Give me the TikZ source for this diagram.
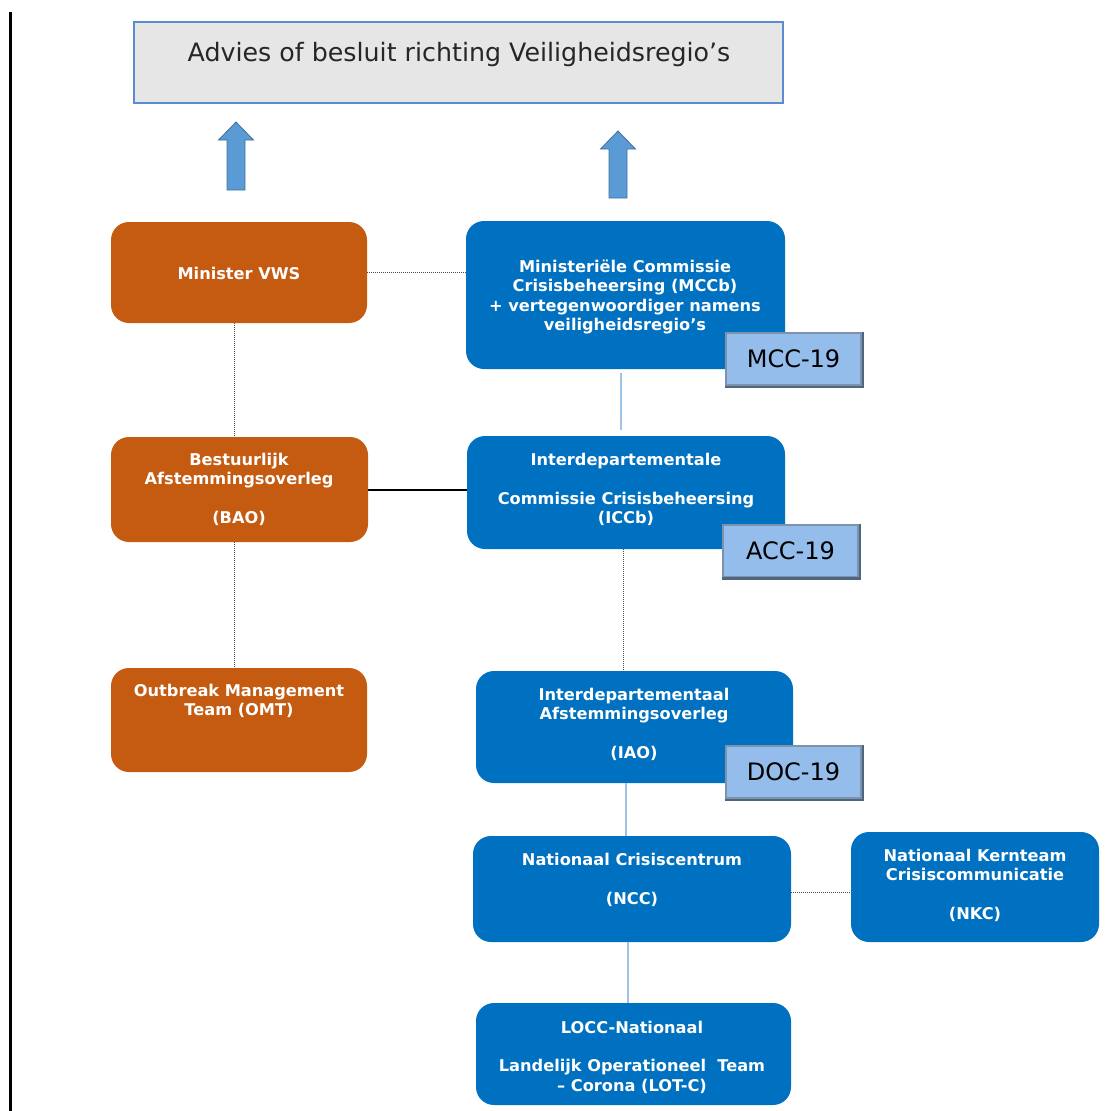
\documentclass[tikz,border=0pt]{standalone}
\usepackage{fontspec}
\setmainfont{DejaVu Sans}
\definecolor{orangebox}{HTML}{C55A11}
\definecolor{bluebox}{HTML}{0070C0}
\definecolor{topfill}{HTML}{E7E6E6}
\definecolor{topline}{HTML}{5B8BD0}
\definecolor{arrowfill}{HTML}{5B9BD5}
\definecolor{arrowline}{HTML}{41719C}
\definecolor{tagfill}{HTML}{95BDEB}
\definecolor{tagline}{HTML}{7D93AB}
\definecolor{tagdark}{HTML}{4F6580}
\definecolor{lightlink}{HTML}{9DC3E6}
\begin{document}
\begin{tikzpicture}[x=1pt,y=-1pt,
  obox/.style={rectangle, rounded corners=18pt, fill=orangebox, draw=none, inner sep=0pt},
  bbox/.style={rectangle, rounded corners=18pt, fill=bluebox, draw=none, inner sep=0pt},
  boxtext/.style={text=white, font=\bfseries\fontsize{16.2}{19.3}\selectfont, align=center, inner sep=0pt},
  tagbox/.style={rectangle, fill=tagfill, draw=tagline, line width=2pt, inner sep=0pt, minimum width=135pt, minimum height=52pt, font=\fontsize{24}{28}\selectfont},
  tagshade/.style={draw=tagdark, line width=2.5pt},
  dotlink/.style={draw=black!70, line width=1pt, densely dotted},
  solidlink/.style={draw=black, line width=2pt},
  bluelink/.style={draw=lightlink, line width=2pt},
  uparrow/.style={fill=arrowfill, draw=arrowline, line width=0.8pt}
]
\useasboundingbox (0,0) rectangle (1120,1111);
\fill[white] (0,0) rectangle (1120,1111);

% left border line
\draw[line width=3pt, black] (10,12) -- (10,1111);

% top box
\node[rectangle, fill=topfill, draw=topline, line width=1.5pt, minimum width=649pt, minimum height=81pt, inner sep=0pt] (top) at (458.5,62.5) {};
\node[font=\fontsize{25.3}{29}\selectfont, text=black!85, inner sep=0pt] (toptext) at (459,55) {Advies of besluit richting Veiligheidsregio’s};

% up arrows
\draw[uparrow] (236,122) -- (253.5,140) -- (245,140) -- (245,190) -- (227,190) -- (227,140) -- (218.5,140) -- cycle;
\draw[uparrow] (618,131) -- (635.5,149) -- (627,149) -- (627,198) -- (609,198) -- (609,149) -- (600.5,149) -- cycle;

% boxes
\node[obox, minimum width=256pt, minimum height=101pt] (vws) at (239,272.5) {};
\node[obox, minimum width=257pt, minimum height=105pt] (bao) at (239.5,489.5) {};
\node[obox, minimum width=256pt, minimum height=104pt] (omt) at (239,720) {};
\node[bbox, minimum width=319pt, minimum height=148pt] (mcc) at (625.5,295) {};
\node[bbox, minimum width=318pt, minimum height=113pt] (icc) at (626,492.5) {};
\node[bbox, minimum width=317pt, minimum height=112pt] (iao) at (634.5,727) {};
\node[bbox, minimum width=318pt, minimum height=106pt] (ncc) at (632,889) {};
\node[bbox, minimum width=248pt, minimum height=110pt] (nkc) at (975,887) {};
\node[bbox, minimum width=315pt, minimum height=102pt] (locc) at (633.5,1054) {};

% connectors
\draw[dotlink] (vws.east) -- (vws.east -| mcc.west);
\draw[dotlink] ([xshift=-5pt]vws.south) -- ([xshift=-5pt]vws.south |- bao.north);
\draw[solidlink] (bao.east) -- (bao.east -| icc.west);
\draw[dotlink] ([xshift=-5pt]bao.south) -- ([xshift=-5pt]bao.south |- omt.north);
\draw[bluelink, shorten <=4pt, shorten >=6pt] ([xshift=-4.5pt]mcc.south) -- ([xshift=-4.5pt]mcc.south |- icc.north);
\draw[dotlink] ([xshift=-3pt]icc.south) -- ([xshift=-3pt]icc.south |- iao.north);
\draw[bluelink] ([xshift=-8.5pt]iao.south) -- ([xshift=-8.5pt]iao.south |- ncc.north);
\draw[dotlink] ([yshift=-3pt]ncc.east) -- ([yshift=-3pt]ncc.east -| nkc.west);
\draw[bluelink] ([xshift=-4pt]ncc.south) -- ([xshift=-4pt]ncc.south |- locc.north);

% box texts
\node[boxtext] (tvws) at (239,273) {Minister VWS};
\node[boxtext] (tbao) at (239,489.5) {Bestuurlijk\\Afstemmingsoverleg\\[19.3pt](BAO)};
\node[boxtext] (tomt) at (239,701) {Outbreak Management\\Team (OMT)};
\node[boxtext] (tmcc) at (625,297) {Ministeriële Commissie\\Crisisbeheersing (MCCb)\\+ vertegenwoordiger namens\\veiligheidsregio’s};
\node[boxtext] (ticc) at (626,489.5) {Interdepartementale\\[19.3pt]Commissie Crisisbeheersing\\(ICCb)};
\node[boxtext] (tiao) at (634,724.5) {Interdepartementaal\\Afstemmingsoverleg\\[19.3pt](IAO)};
\node[boxtext] (tncc) at (632,880) {Nationaal Crisiscentrum\\[19.3pt](NCC)};
\node[boxtext] (tnkc) at (975,885.5) {Nationaal Kernteam\\Crisiscommunicatie\\[19.3pt](NKC)};
\node[boxtext] (tlocc) at (632,1057) {LOCC-Nationaal\\[19.3pt]Landelijk Operationeel\ \ Team\\– Corona (LOT-C)};

% tags
\node[tagbox] (mcc19) at (793.5,359) {MCC-19};
\draw[tagshade] ([xshift=1pt]mcc19.north east) -- ([xshift=1pt,yshift=-1pt]mcc19.south east) -- ([yshift=-1pt]mcc19.south west);
\node[tagbox] (acc19) at (790.5,550.5) {ACC-19};
\draw[tagshade] ([xshift=1pt]acc19.north east) -- ([xshift=1pt,yshift=-1pt]acc19.south east) -- ([yshift=-1pt]acc19.south west);
\node[tagbox] (doc19) at (793.5,772) {DOC-19};
\draw[tagshade] ([xshift=1pt]doc19.north east) -- ([xshift=1pt,yshift=-1pt]doc19.south east) -- ([yshift=-1pt]doc19.south west);
\end{tikzpicture}
\end{document}
